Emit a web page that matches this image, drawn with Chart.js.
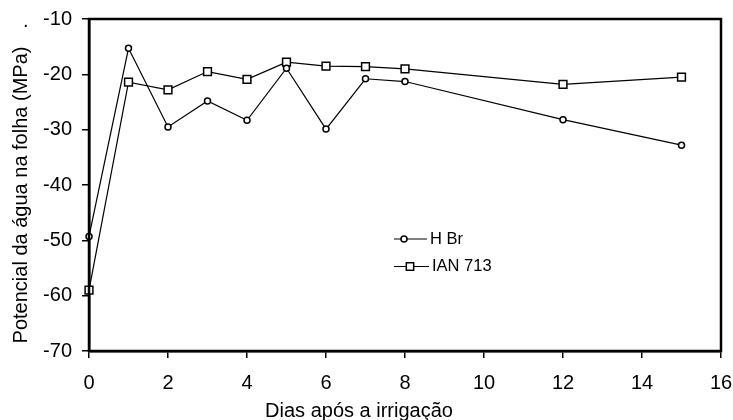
<!DOCTYPE html>
<html>
<head>
<meta charset="utf-8">
<script src="https://cdn.jsdelivr.net/npm/chart.js@4"></script>
<style>
html,body{margin:0;padding:0;background:#fff;}
#wrap{width:733px;height:420px;position:relative;}
</style>
</head>
<body>
<div id="wrap"><canvas id="c" width="733" height="420"></canvas></div>
<script>
const days = [0, 1, 2, 3, 4, 5, 6, 7, 8, 12, 15];
const hBr = [-49.3, -15.3, -29.5, -24.8, -28.3, -18.9, -29.9, -20.8, -21.3, -28.2, -32.8];
const ian713 = [-59.0, -21.4, -22.8, -19.5, -20.9, -17.8, -18.5, -18.6, -19.0, -21.8, -20.5];
const seriesNames = ['H Br', 'IAN 713'];
const xTitle = 'Dias após a irrigação';
const yTitle = 'Potencial da água na folha (MPa)';

const FONT = 'Liberation Sans, Arial, sans-serif';

function pts(ys){ return days.map((d,i)=>({x:d,y:ys[i]})); }

const legendPlugin = {
  id:'inLegend',
  afterDraw(chart){
    const ctx = chart.ctx;
    const items = [
      {name:seriesNames[0], style:'circle', r:3, y:239, mx:404, x1:427, tx:430},
      {name:seriesNames[1], style:'rect', r:5.2, y:266.5, mx:410, x1:429, tx:432}
    ];
    ctx.save();
    items.forEach(it=>{
      ctx.strokeStyle='#000'; ctx.lineWidth=1.2;
      ctx.beginPath(); ctx.moveTo(394,it.y); ctx.lineTo(it.x1,it.y); ctx.stroke();
      ctx.fillStyle='#fff'; ctx.strokeStyle='#000'; ctx.lineWidth=1.5;
      ctx.beginPath();
      if(it.style==='circle'){ ctx.arc(it.mx,it.y,it.r,0,Math.PI*2); }
      else { const s=it.r*Math.SQRT1_2; ctx.rect(it.mx-s,it.y-s,2*s,2*s); }
      ctx.fill(); ctx.stroke();
      ctx.fillStyle='#000'; ctx.font='16.5px '+FONT; ctx.textBaseline='middle'; ctx.textAlign='left';
      ctx.fillText(it.name,it.tx,it.y);
    });
    ctx.font='20px '+FONT; ctx.textAlign='left'; ctx.textBaseline='alphabetic';
    ctx.fillText('.',23,27);
    // axis titles
    ctx.font='20px '+FONT; ctx.textAlign='center'; ctx.textBaseline='alphabetic';
    ctx.fillText(xTitle,359,417);
    ctx.save();
    ctx.translate(21,195); ctx.rotate(-Math.PI/2);
    ctx.textBaseline='middle';
    ctx.fillText(yTitle,0,0);
    ctx.restore();
    // frame
    const a = chart.chartArea;
    ctx.strokeStyle='#000'; ctx.lineWidth=2.5;
    ctx.strokeRect(a.left,a.top,a.right-a.left,a.bottom-a.top);
    ctx.restore();
  }
};

new Chart(document.getElementById('c'),{
  type:'line',
  data:{
    datasets:[
      {label:seriesNames[0], data:pts(hBr), borderColor:'#000', borderWidth:1.2, backgroundColor:'#fff',
       pointStyle:'circle', pointRadius:3, pointBorderWidth:1.5, pointBackgroundColor:'#fff', pointBorderColor:'#000', tension:0},
      {label:seriesNames[1], data:pts(ian713), borderColor:'#000', borderWidth:1.2, backgroundColor:'#fff',
       pointStyle:'rect', pointRadius:5.5, pointBorderWidth:1.5, pointBackgroundColor:'#fff', pointBorderColor:'#000', tension:0}
    ]
  },
  options:{
    responsive:false, animation:false, clip:false,
    layout:{padding:{top:19,right:12,left:0,bottom:0}},
    plugins:{legend:{display:false}, tooltip:{enabled:false}},
    scales:{
      x:{type:'linear', min:0, max:16,
        ticks:{stepSize:2, color:'#000', font:{family:FONT,size:20}, padding:13},
        grid:{drawOnChartArea:false, color:'#000', tickLength:7, tickColor:'#000', lineWidth:1.5},
        border:{display:true,color:'#000',width:2.5},
        title:{display:false},
        afterFit(s){ s.height = 420-351; s.paddingLeft = 0; s.paddingRight = 0; }
      },
      y:{min:-70, max:-10,
        ticks:{stepSize:10, color:'#000', font:{family:FONT,size:20}, padding:10},
        grid:{drawOnChartArea:false, color:'#000', tickLength:7, tickColor:'#000', lineWidth:1.5},
        border:{display:true,color:'#000',width:2.5},
        title:{display:false},
        afterFit(s){ s.width = 89; s.paddingTop = 0; s.paddingBottom = 0; }
      }
    }
  },
  plugins:[legendPlugin]
});
</script>
</body>
</html>
